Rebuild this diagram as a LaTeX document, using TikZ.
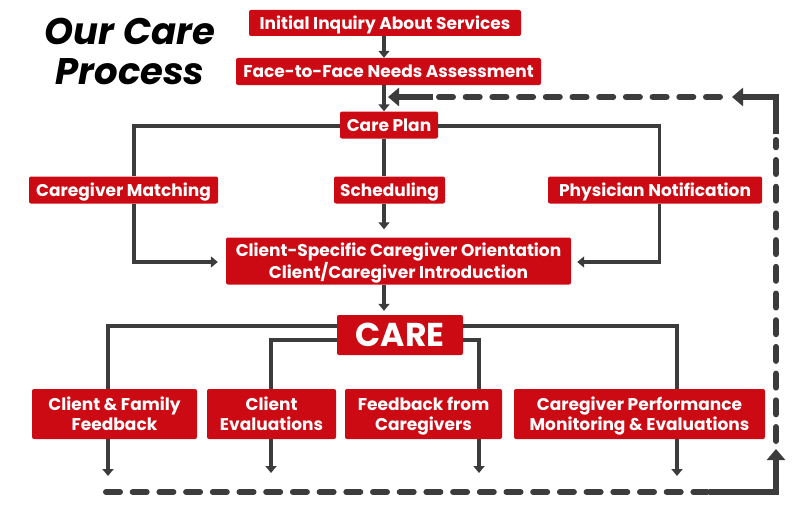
\documentclass[tikz,border=0pt]{standalone}
\usepackage{fontspec}
\setmainfont{Poppins}
\usetikzlibrary{arrows.meta}
\definecolor{cred}{HTML}{CC0A14}
\definecolor{cgray}{HTML}{3C3C3C}
\newcommand{\sv}{\vphantom{A}}
\begin{document}
\begin{tikzpicture}[x=1pt,y=-1pt,
  box/.style={fill=cred,text=white,font=\bfseries\fontsize{17}{20}\selectfont,rounded corners=2pt,inner sep=0pt,align=center,text depth=0pt},
  conn/.style={draw=cgray,line width=3.5pt},
  arr/.style={conn,-{Triangle[width=11pt,length=7pt]}},
  loopd/.style={draw=cgray,line width=6pt,dash pattern=on 14pt off 12.7pt,line cap=round},
  loops/.style={draw=cgray,line width=6pt,-{Triangle[width=18pt,length=11pt]}},
]
\useasboundingbox (0,0) rectangle (800,511);
\coordinate (spine) at (384,0);
\node[font=\bfseries\itshape\fontsize{37}{40}\selectfont,align=center] (title) at (130,51) {Our Care\\Process};
\node[box,minimum width=272,minimum height=26] (inq) at (385,23) {\sv Initial Inquiry About Services};
\node[box,minimum width=305,minimum height=27] (f2f) at (388.5,71.5) {\sv Face-to-Face Needs Assessment};
\node[box,minimum width=98,minimum height=27] (plan) at (389,125) {\sv Care Plan};
\node[box,minimum width=189,minimum height=27] (match) at (123.5,190) {\sv Caregiver Matching};
\node[box,minimum width=111,minimum height=27] (sched) at (389.5,190) {\sv Scheduling};
\node[box,minimum width=214,minimum height=27] (phys) at (655,190) {\sv Physician Notification};
\node[box,minimum width=345,minimum height=47] (cs) at (398.5,261) {\sv Client-Specific Caregiver Orientation\\\sv Client/Caregiver Introduction};
\node[box,minimum width=126,minimum height=40,font=\bfseries\fontsize{33}{34}\selectfont] (care) at (400,335) {CARE};
\node[box,minimum width=165,minimum height=50] (cfam) at (114.5,414) {\sv Client \& Family\\\sv Feedback};
\node[box,minimum width=129,minimum height=50] (ceval) at (271.5,414) {\sv Client\\\sv Evaluations};
\node[box,minimum width=157,minimum height=50] (fbc) at (423.5,414) {\sv Feedback from\\\sv Caregivers};
\node[box,minimum width=251,minimum height=50] (cgp) at (639.5,414) {\sv Caregiver Performance\\\sv Monitoring \& Evaluations};
% spine
\draw[arr] (inq.south -| spine) -- (f2f.north -| spine);
\draw[arr] (f2f.south -| spine) -- (plan.north -| spine);
\draw[conn] (plan.south -| spine) -- (sched.north -| spine);
\draw[arr,shorten >=8pt] (sched.south -| spine) -- (cs.north -| spine);
\draw[arr,shorten >=4pt] (cs.south -| spine) -- (care.north -| spine);
% care plan branches
\draw[conn] ([yshift=-1pt]plan.west) -| ([xshift=10.5pt]match.north);
\draw[conn] ([yshift=-1pt]plan.east) -| ([xshift=4.5pt]phys.north);
\draw[arr,shorten >=8pt] ([xshift=10.5pt]match.south) |- ([yshift=-1pt]cs.west);
\draw[arr,shorten >=6pt] ([xshift=4.5pt]phys.south) |- ([yshift=-1pt]cs.east);
% care branches
\draw[conn] ([yshift=9pt]care.west) -| ([xshift=-6.5pt]cfam.north);
\draw[conn] ([yshift=-5pt]care.west) -| ([xshift=-0.5pt]ceval.north);
\draw[conn] ([yshift=-5pt]care.east) -| ([xshift=55.5pt]fbc.north);
\draw[conn] ([yshift=9pt]care.east) -| ([xshift=37.5pt]cgp.north);
\coordinate (e1) at (108,476);
\coordinate (e2) at (271,473);
\coordinate (e3) at (479,473);
\coordinate (e4) at (677,476);
\draw[arr] (cfam.south -| e1) -- (e1);
\draw[arr] (ceval.south -| e2) -- (e2);
\draw[arr] (fbc.south -| e3) -- (e3);
\draw[arr] (cgp.south -| e4) -- (e4);
% feedback loop
\coordinate (l0) at (106,492);
\coordinate (l1) at (712,492);
\coordinate (l2) at (776,492);
\coordinate (l3) at (776,449);
\coordinate (l4) at (776,441);
\coordinate (l5) at (776,140);
\coordinate (l6) at (776,134);
\coordinate (l7) at (776,97);
\coordinate (l8) at (732,97);
\coordinate (l9) at (720,97);
\coordinate (l10) at (438,97);
\coordinate (l11) at (433,97);
\coordinate (l12) at (388,97);
\draw[loopd] (l0) -- (l1);
\draw[loops] ([xshift=-3pt]l1) -- (l2) -- (l3);
\draw[loopd] (l4) -- (l5);
\draw[loops] (l6) -- (l7) -- (l8);
\draw[loopd] (l9) -- (l10);
\draw[loops] (l11) -- (l12);
\end{tikzpicture}
\end{document}
